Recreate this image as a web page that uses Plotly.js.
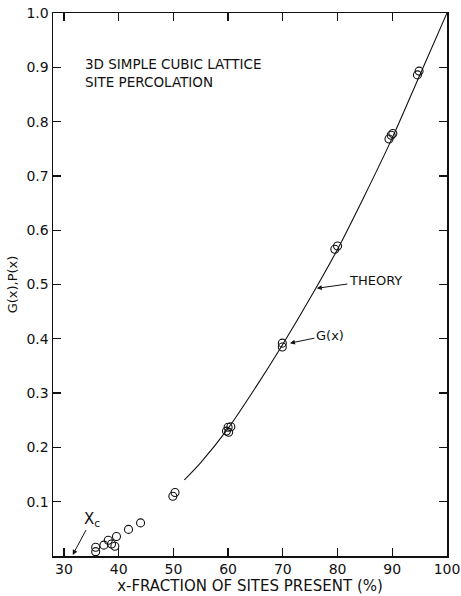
<!DOCTYPE html>
<html>
<head>
<meta charset="utf-8">
<script src="https://cdn.plot.ly/plotly-3.0.1.min.js"></script>
<style>html,body{margin:0;padding:0;background:#fff;}#chart{width:461px;height:596px;}</style>
</head>
<body>
<div id="chart"></div>
<script>
// Measured G(x) points (x in %, G(x))
const gX = [35.8, 35.8, 37.3, 38.1, 38.7, 39.3, 39.6, 41.8, 44.0, 49.9, 50.3, 59.7, 60.1, 60.0, 60.5, 69.9, 69.9, 79.5, 80.0, 89.4, 89.8, 90.1, 94.6, 94.9];
const gY = [0.016, 0.008, 0.020, 0.029, 0.022, 0.018, 0.036, 0.049, 0.061, 0.110, 0.117, 0.230, 0.228, 0.237, 0.238, 0.392, 0.385, 0.565, 0.571, 0.768, 0.775, 0.778, 0.886, 0.893];
// Theory curve
const thX = [52, 55, 60, 65, 70, 75, 80, 85, 90, 95, 100];
const thY = [0.14, 0.172, 0.235, 0.31, 0.39, 0.475, 0.565, 0.665, 0.77, 0.885, 1.0];
// Tick labels
const xTicks = [30, 40, 50, 60, 70, 80, 90, 100];
const yTicks = [0.1, 0.2, 0.3, 0.4, 0.5, 0.6, 0.7, 0.8, 0.9, 1.0];
const yTickText = ['0.1', '0.2', '0.3', '0.4', '0.5', '0.6', '0.7', '0.8', '0.9', '1.0'];

const ink = '#111';
const fnt = 'DejaVu Sans, Liberation Sans, sans-serif';

const traces = [
  {x: thX, y: thY, mode: 'lines', line: {color: ink, width: 1.1, shape: 'spline', smoothing: 0.8}, hoverinfo: 'skip'},
  {x: gX, y: gY, mode: 'markers', marker: {symbol: 'circle-open', size: 8, color: ink, line: {width: 1.1, color: ink}}}
];

const axisCommon = {
  showgrid: false, zeroline: false, showline: true, linecolor: ink, linewidth: 1.5,
  mirror: 'ticks', ticks: 'inside', ticklen: 8, tickwidth: 1.3, tickcolor: ink,
  tickfont: {family: fnt, size: 14, color: ink}
};

const layout = {
  width: 461, height: 596,
  margin: {l: 53, r: 14, t: 13, b: 40},
  paper_bgcolor: '#fff', plot_bgcolor: '#fff',
  showlegend: false,
  xaxis: Object.assign({}, axisCommon, {
    range: [28, 100], tickvals: xTicks, ticktext: xTicks.map(String),
    title: {text: 'x-FRACTION OF SITES PRESENT (%)', font: {family: fnt, size: 15, color: ink}, standoff: 3}
  }),
  yaxis: Object.assign({}, axisCommon, {
    range: [0, 1.0], tickvals: yTicks, ticktext: yTickText,
    title: {text: 'G(x),P(x)', font: {family: fnt, size: 13, color: ink}, standoff: 6}
  }),
  annotations: [
    {x: 33.5, y: 0.889, xref: 'x', yref: 'y', xanchor: 'left', yanchor: 'middle', align: 'left',
     text: '3D SIMPLE CUBIC LATTICE<br>SITE PERCOLATION', showarrow: false,
     font: {family: fnt, size: 13.5, color: ink}},
    {x: 76.2, y: 0.493, xref: 'x', yref: 'y', ax: 86.9, ay: 0.508, axref: 'x', ayref: 'y',
     text: 'THEORY', showarrow: true, arrowhead: 2, arrowsize: 1, arrowwidth: 1, arrowcolor: ink,
     font: {family: fnt, size: 13, color: ink}},
    {x: 71.3, y: 0.392, xref: 'x', yref: 'y', ax: 78.6, ay: 0.407, axref: 'x', ayref: 'y',
     text: 'G(x)', showarrow: true, arrowhead: 2, arrowsize: 1, arrowwidth: 1, arrowcolor: ink,
     font: {family: fnt, size: 13, color: ink}},
    {x: 31.6, y: 0.002, xref: 'x', yref: 'y', ax: 35.1, ay: 0.068, axref: 'x', ayref: 'y',
     text: 'X<sub>c</sub>', showarrow: true, arrowhead: 2, arrowsize: 1, arrowwidth: 1, arrowcolor: ink,
     font: {family: fnt, size: 15, color: ink}}
  ]
};

Plotly.newPlot('chart', traces, layout, {displayModeBar: false, staticPlot: true});
</script>
</body>
</html>
